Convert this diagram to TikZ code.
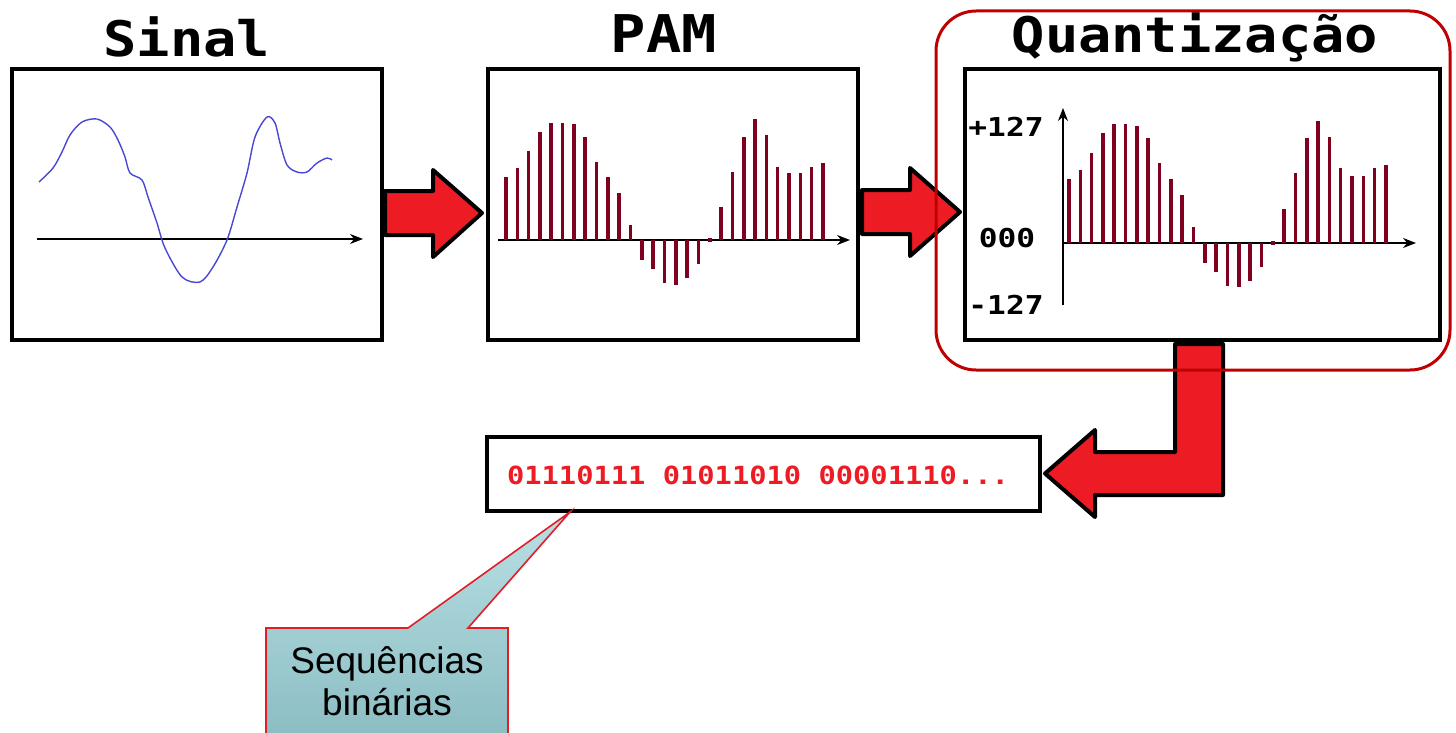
\documentclass[tikz,border=0pt]{standalone}
\usepackage{fontspec}
\setmainfont{Liberation Sans}
\newfontfamily\ttlfont[FakeStretch=1.13]{DejaVu Sans Mono}
\newfontfamily\numfont[FakeStretch=1.2]{DejaVu Sans Mono}
\newfontfamily\binfont[FakeStretch=1.15]{DejaVu Sans Mono}
\usetikzlibrary{arrows.meta}
\definecolor{arrred}{RGB}{237,28,36}
\definecolor{barred}{RGB}{128,0,32}
\definecolor{wave}{RGB}{72,72,212}
\definecolor{hlred}{RGB}{192,0,0}
\definecolor{calltop}{RGB}{184,224,228}
\definecolor{callbot}{RGB}{138,188,194}
\definecolor{callred}{RGB}{225,30,40}
\tikzset{
  panel/.style={draw=black, line width=4pt, inner sep=0pt, minimum height=271pt},
  title/.style={font=\ttlfont\bfseries\fontsize{49}{49}\selectfont, anchor=base, inner sep=0pt},
  bigarrow/.style={fill=arrred, draw=black, line width=4pt, line join=round},
  plotaxis/.style={line width=1.3pt, -{Stealth[length=13pt,width=10pt]}},
  sample/.style={draw=barred, line width=3.6pt},
  lvl/.style={font=\numfont\bfseries\fontsize{26}{26}\selectfont, anchor=base, inner sep=0pt},
}
\begin{document}
\begin{tikzpicture}[x=1pt,y=-1pt]
\useasboundingbox (0,0) rectangle (1456,733);

% panels
\node[panel, minimum width=370pt] (sinal) at (197,204.5) {};
\node[panel, minimum width=370pt] (pam) at (673,204.5) {};
\node[panel, minimum width=475pt] (quant) at (1202.5,204.5) {};

% titles
\node[title] (tsinal) at (187,57) {Sinal};
\node[title, font=\ttlfont\bfseries\fontsize{52}{52}\selectfont] (tpam) at (664,53) {PAM};
\node[title] (tquant) at (1195,53) {Quantização};

% signal plot
\draw[plotaxis] (37,239) -- (363,239);
\draw[wave, line width=1.4pt] plot[smooth, tension=0.5] coordinates {
 (39,182) (53,168) (62,152) (70,135) (82,122) (97,119) (110,127) (118,140)
 (125,157) (130,173) (142,180) (148,197) (157,223) (165,248) (182,277)
 (200,282) (213,267) (227,240) (237,207) (247,173) (255,137) (267,117)
 (275,123) (280,143) (287,165) (297,172) (307,172) (317,163) (327,158) (332,160)};

% PAM plot
\draw[plotaxis] (498,240) -- (850,240);
\foreach \h [count=\i from 0] in {63,72,89,108,117,117,116,103,78,63,47,15,-20,-29,-43,-45,-38,-24,0,33,68,103,121,105,73,67,67,73,77}{
  \ifnum\h=0
    \fill[barred] ({506+\i*11.32-2},238) rectangle ++(4,4);
  \else
    \draw[sample] ({506+\i*11.32},240) -- ({506+\i*11.32},{240-(\h)});
  \fi
}

% Quantization plot
\draw[plotaxis] (1063,243) -- (1416,243);
\draw[plotaxis] (1063,305) -- (1063,108);
\foreach \h [count=\i from 0] in {64,73,90,110,119,119,117,105,80,64,48,16,-20,-29,-43,-44,-38,-24,0,34,70,105,122,106,75,67,67,75,78}{
  \ifnum\h=0
    \fill[barred] ({1069+\i*11.32-2},241) rectangle ++(4,4);
  \else
    \draw[sample] ({1069+\i*11.32},243) -- ({1069+\i*11.32},{243-(\h)});
  \fi
}
\node[lvl] (lp) at (1006,136) {+127};
\node[lvl] (lz) at (1007,247) {000};
\node[lvl] (lm) at (1006,314) {-127};

% binary box
\node[draw=black, line width=4pt, minimum width=553pt, minimum height=74pt, inner sep=0pt] (bin) at (763.5,474) {};
\node[font=\binfont\bfseries\fontsize{25}{25}\selectfont, text=arrred, anchor=base, inner sep=0pt] (bintext) at (758,484) {01110111 01011010 00001110...};

% arrows
\draw[bigarrow] (385,191) -- (433,191) -- (433,170) -- (482,213) -- (433,257) -- (433,235) -- (385,235) -- cycle;
\draw[bigarrow] (862,190) -- (910,190) -- (910,168) -- (960,212) -- (910,256) -- (910,234) -- (862,234) -- cycle;
\draw[bigarrow] (1175,344) -- (1223,344) -- (1223,495) -- (1095,495) -- (1095,517) -- (1045,473.5) -- (1095,430) -- (1095,452) -- (1175,452) -- cycle;

% callout
\coordinate (tip) at (570,512);
\path[top color=calltop, bottom color=callbot, draw=callred, line width=1.6pt]
  (266,628) -- (408,628) -- (tip) -- (468,628) -- (508,628) -- (508,745) -- (266,745) -- cycle;
\node[font=\fontsize{37}{37}\selectfont, anchor=base, inner sep=0pt] (seq1) at (387,673) {Sequências};
\node[font=\fontsize{37}{37}\selectfont, anchor=base, inner sep=0pt] (seq2) at (387,715) {binárias};

% highlight
\node[draw=hlred, line width=3pt, rounded corners=40pt, minimum width=514pt, minimum height=359pt, inner sep=0pt] (hl) at (1193,190.5) {};
\end{tikzpicture}
\end{document}
